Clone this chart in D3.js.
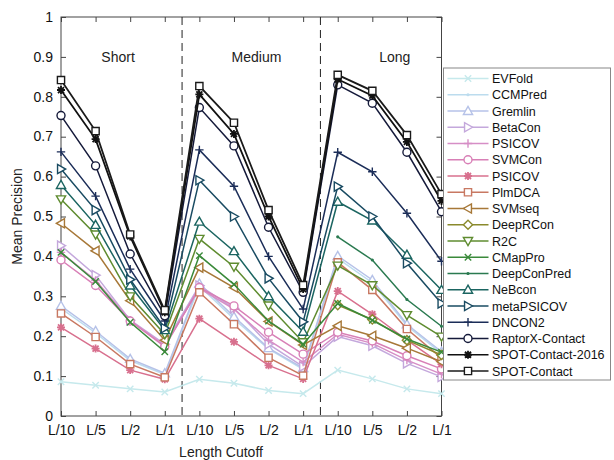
<!DOCTYPE html>
<html>
<head>
<meta charset="utf-8">
<script src="https://cdn.jsdelivr.net/npm/d3@7"></script>
<style>
  body { margin: 0; background: #fff; }
  svg { display: block; font-family: "Liberation Sans", Arial, sans-serif; }
</style>
</head>
<body>
<div id="chart"></div>
<script>
// x categories (repeated for each range group)
const cutoffs = ["L/10", "L/5", "L/2", "L/1"];
const groups = ["Short", "Medium", "Long"];
const yTicks = [0, 0.1, 0.2, 0.3, 0.4, 0.5, 0.6, 0.7, 0.8, 0.9, 1];

// mean precision, short L/10..L/1, medium L/10..L/1, long L/10..L/1
const evfold = [0.086, 0.077, 0.068, 0.060, 0.092, 0.082, 0.064, 0.056, 0.115, 0.093, 0.068, 0.056];
const ccmpred = [0.270, 0.208, 0.139, 0.104, 0.326, 0.243, 0.168, 0.117, 0.395, 0.334, 0.226, 0.157];
const gremlin = [0.276, 0.213, 0.143, 0.107, 0.332, 0.249, 0.170, 0.120, 0.401, 0.341, 0.230, 0.161];
const betacon = [0.427, 0.353, 0.240, 0.180, 0.327, 0.270, 0.180, 0.124, 0.199, 0.176, 0.132, 0.098];
const psicovPlus = [0.410, 0.340, 0.240, 0.176, 0.320, 0.268, 0.190, 0.135, 0.205, 0.182, 0.140, 0.105];
const svmcon = [0.391, 0.327, 0.238, 0.174, 0.322, 0.276, 0.210, 0.155, 0.210, 0.188, 0.151, 0.118];
const psicovStar = [0.222, 0.169, 0.115, 0.092, 0.244, 0.186, 0.127, 0.093, 0.313, 0.255, 0.190, 0.130];
const plmdca = [0.257, 0.198, 0.130, 0.097, 0.310, 0.230, 0.146, 0.101, 0.385, 0.316, 0.218, 0.145];
const svmseq = [0.483, 0.414, 0.289, 0.190, 0.372, 0.322, 0.237, 0.178, 0.226, 0.201, 0.170, 0.136];
const deeprcon = [null, null, null, null, null, null, null, null, 0.278, 0.242, 0.190, 0.153];
const r2c = [0.543, 0.455, 0.300, 0.205, 0.444, 0.374, 0.277, 0.185, 0.377, 0.328, 0.253, 0.199];
const cmappro = [0.410, 0.337, 0.235, 0.161, 0.402, 0.330, 0.238, 0.180, 0.282, 0.240, 0.193, 0.160];
const deepconpred = [null, null, null, null, null, null, null, null, 0.449, 0.391, 0.292, 0.225];
const nebcon = [0.579, 0.479, 0.327, 0.215, 0.487, 0.413, 0.300, 0.211, 0.537, 0.490, 0.404, 0.316];
const metapsicov = [0.619, 0.516, 0.342, 0.220, 0.591, 0.500, 0.345, 0.236, 0.575, 0.500, 0.383, 0.282];
const dncon2 = [0.662, 0.551, 0.368, 0.238, 0.667, 0.576, 0.400, 0.268, 0.661, 0.612, 0.508, 0.388];
const raptorx = [0.753, 0.627, 0.406, 0.251, 0.773, 0.677, 0.473, 0.310, 0.830, 0.784, 0.661, 0.512];
const spot2016 = [0.817, 0.694, 0.450, 0.260, 0.806, 0.707, 0.500, 0.318, 0.844, 0.803, 0.687, 0.539];
const spotContact = [0.842, 0.714, 0.455, 0.265, 0.827, 0.735, 0.516, 0.328, 0.855, 0.815, 0.704, 0.556];

const methodNames = ["EVFold", "CCMPred", "Gremlin", "BetaCon", "PSICOV", "SVMCon", "PSICOV", "PlmDCA",
  "SVMseq", "DeepRCon", "R2C", "CMapPro", "DeepConPred", "NeBcon", "metaPSICOV", "DNCON2",
  "RaptorX-Contact", "SPOT-Contact-2016", "SPOT-Contact"];
const methodValues = [evfold, ccmpred, gremlin, betacon, psicovPlus, svmcon, psicovStar, plmdca,
  svmseq, deeprcon, r2c, cmappro, deepconpred, nebcon, metapsicov, dncon2, raptorx, spot2016, spotContact];

// styling, kept apart from the data
const colors = ["#c6e9ec", "#bcdcee", "#b6c2e8", "#c4a8dc", "#d68ec6", "#d87fb6", "#d8708e", "#c87862",
  "#a77838", "#8a8a2c", "#5f8c30", "#3a8a3a", "#2a7a50", "#1b6561", "#194b62", "#1b2d58",
  "#151a3a", "#111111", "#1a1a1a"];
const markers = ["x", ".", "^", ">", "+", "o", "*", "s", "<", "d", "v", "x", ".", "^", ">", "+", "o", "*", "s"];

const width = 614, height = 460;
const plotLeft = 61, plotRight = 441.5, plotTop = 17, plotBottom = 416;

const svg = d3.select("#chart").append("svg").attr("width", width).attr("height", height);

const nPts = groups.length * cutoffs.length;
const x = d3.scaleLinear().domain([0, nPts - 1]).range([plotLeft, plotRight]);
const y = d3.scaleLinear().domain([0, 1]).range([plotBottom, plotTop]);

const axisColor = "#444";

// axes (matlab-like box with inward ticks)
const xAxis = d3.axisBottom(x).tickValues(d3.range(nPts)).tickFormat((i) => cutoffs[i % cutoffs.length])
  .tickSize(-5).tickPadding(9);
const yAxis = d3.axisLeft(y).tickValues(yTicks).tickFormat(d3.format("~g")).tickSize(-5).tickPadding(8);

const gx = svg.append("g").attr("transform", `translate(0,${plotBottom})`).call(xAxis);
const gy = svg.append("g").attr("transform", `translate(${plotLeft},0)`).call(yAxis);
const gxTop = svg.append("g").attr("transform", `translate(0,${plotTop})`)
  .call(d3.axisTop(x).tickValues(d3.range(nPts)).tickFormat("").tickSize(-5));
const gyRight = svg.append("g").attr("transform", `translate(${plotRight},0)`)
  .call(d3.axisRight(y).tickValues(yTicks).tickFormat("").tickSize(-5));

[gx, gy, gxTop, gyRight].forEach((g) => {
  g.select(".domain").remove();
  g.selectAll("line").attr("stroke", axisColor);
  g.selectAll("text").attr("fill", "#111").attr("font-size", "14px")
    .attr("font-family", "Liberation Sans, Arial, sans-serif");
});
gy.selectAll("text").attr("dy", "0.3em");

svg.append("rect")
  .attr("x", plotLeft).attr("y", plotTop)
  .attr("width", plotRight - plotLeft).attr("height", plotBottom - plotTop)
  .attr("fill", "none").attr("stroke", axisColor).attr("stroke-width", 1);

// group separators
[3.5, 7.5].forEach((v) => {
  svg.append("line")
    .attr("x1", x(v)).attr("x2", x(v)).attr("y1", plotTop).attr("y2", plotBottom)
    .attr("stroke", "#222").attr("stroke-width", 1).attr("stroke-dasharray", "8,5");
});

// group labels
groups.forEach((g, i) => {
  svg.append("text")
    .attr("x", x(i * 4 + 1.65)).attr("y", 62)
    .attr("text-anchor", "middle").attr("font-size", "14px").attr("fill", "#222")
    .text(g);
});

// axis titles
svg.append("text")
  .attr("transform", `translate(22,${(plotTop + plotBottom) / 2}) rotate(-90)`)
  .attr("text-anchor", "middle").attr("font-size", "14px").attr("fill", "#222")
  .text("Mean Precision");
svg.append("text")
  .attr("x", 221).attr("y", 457)
  .attr("text-anchor", "middle").attr("font-size", "14px").attr("fill", "#222")
  .text("Length Cutoff");

// marker shapes
function markerPath(type) {
  const t = 4.6, s = 3.6, c = 3.2;
  switch (type) {
    case "^": return `M0,${-t}L${t},${t * 0.75}L${-t},${t * 0.75}Z`;
    case "v": return `M0,${t}L${t},${-t * 0.75}L${-t},${-t * 0.75}Z`;
    case ">": return `M${t},0L${-t * 0.75},${t}L${-t * 0.75},${-t}Z`;
    case "<": return `M${-t},0L${t * 0.75},${t}L${t * 0.75},${-t}Z`;
    case "s": return `M${-s},${-s}H${s}V${s}H${-s}Z`;
    case "d": return `M0,${-4.6}L${4.6},0L0,${4.6}L${-4.6},0Z`;
    case "o": return "M4,0A4,4 0 1,1 -4,0A4,4 0 1,1 4,0Z";
    case "x": return `M${-c},${-c}L${c},${c}M${-c},${c}L${c},${-c}`;
    case "+": return `M-4.2,0H4.2M0,-4.2V4.2`;
    case "*": return `M-4,0H4M0,-4V4M-3,-3L3,3M-3,3L3,-3`;
    case ".": return "M0.9,0A0.9,0.9 0 1,1 -0.9,0A0.9,0.9 0 1,1 0.9,0Z";
  }
  return "";
}
function drawMarker(g, type, color, cx, cy) {
  const filled = type === ".";
  g.append("path")
    .attr("d", markerPath(type))
    .attr("transform", `translate(${cx},${cy})`)
    .attr("fill", filled ? color : (type === "x" || type === "+" || type === "*") ? "none" : "#fff")
    .attr("stroke", color)
    .attr("stroke-width", type === "*" ? 1.8 : 1.4);
}

const line = d3.line()
  .defined((d) => d != null)
  .x((d, i) => x(i))
  .y((d) => y(d));

const plot = svg.append("g");
methodValues.forEach((vals, k) => {
  const g = plot.append("g");
  g.append("path")
    .attr("d", line(vals))
    .attr("fill", "none")
    .attr("stroke", colors[k])
    .attr("stroke-width", k >= 17 ? 1.8 : 1.5);
  vals.forEach((v, i) => {
    if (v == null) return;
    drawMarker(g, markers[k], colors[k], x(i), y(v));
  });
});

// legend
const legX = 443.5, legY = 68, legW = 167, legH = 312, rowH = 16.25;
const legend = svg.append("g");
legend.append("rect")
  .attr("x", legX).attr("y", legY).attr("width", legW).attr("height", legH)
  .attr("fill", "#fff").attr("stroke", "#888").attr("stroke-width", 1);
methodNames.forEach((name, k) => {
  const ry = legY + 10.5 + k * rowH;
  legend.append("line")
    .attr("x1", legX + 4).attr("x2", legX + 45).attr("y1", ry).attr("y2", ry)
    .attr("stroke", colors[k]).attr("stroke-width", 1.5);
  drawMarker(legend, markers[k], colors[k], legX + 24.5, ry);
  legend.append("text")
    .attr("x", legX + 48.5).attr("y", ry + 4.5)
    .attr("font-size", "12.5px").attr("fill", "#111")
    .text(name);
});
</script>
</body>
</html>
